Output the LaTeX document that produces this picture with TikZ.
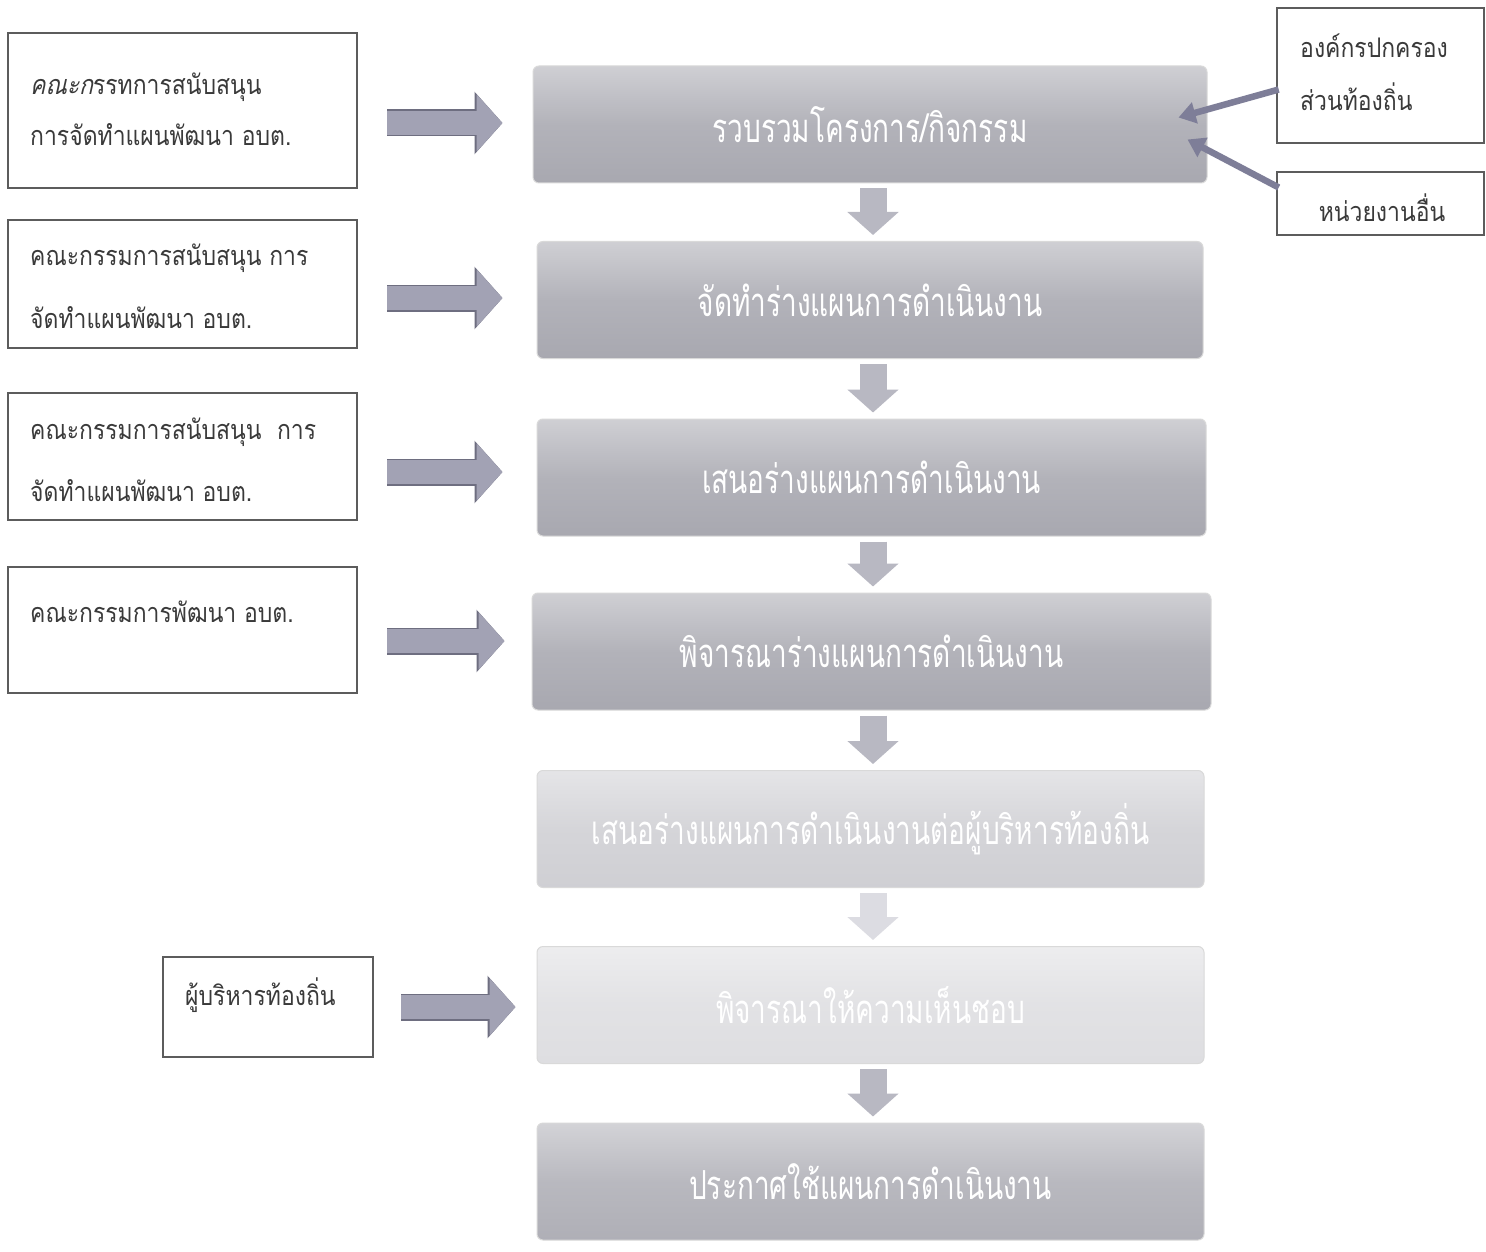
\documentclass[tikz,border=0pt]{standalone}
\usepackage{fontspec}
\newfontfamily\thai[Script=Thai,FakeStretch=0.85]{Loma}
\newfontfamily\thaiit[Script=Thai,FakeStretch=0.85,FakeSlant=0.22]{Loma}
\newfontfamily\thaicond[Script=Thai,FakeStretch=0.7]{Loma}
\usetikzlibrary{arrows.meta,calc}
\definecolor{boxedge}{HTML}{5C5C5C}
\definecolor{txt}{HTML}{3A3A3A}
\definecolor{arr}{HTML}{A2A2B4}
\definecolor{arrdark}{HTML}{6E6E80}
\definecolor{sarr}{HTML}{7E7E98}
\definecolor{arrlight}{HTML}{DCDCE2}
\definecolor{arrmid}{HTML}{B8B8C2}
\definecolor{mmid}{HTML}{A8A8B0}
\tikzset{
  sidebox/.style={draw=boxedge, line width=2.6pt, fill=white, inner sep=0pt},
  sidetext/.style={font=\thai\fontsize{27}{27}\selectfont, text=txt, inner sep=0pt, anchor=west},
  mainbox/.style={rounded corners=6pt, draw=white!85!black, line width=1pt,
    minimum height=117pt, inner sep=0pt,
    top color=#1!55!white, bottom color=#1, middle color=#1!88!white,
    text=white, font=\thaicond\fontsize{40}{40}\selectfont},
  blockarr/.style={line width=24pt, draw=arr, -{Triangle[length=26pt,width=56pt]},
    preaction={draw=arrdark, line width=27pt, -{Triangle[length=28pt,width=61pt]}}},
  downarr/.style={line width=27pt, draw=#1, -{Triangle[length=23pt,width=50pt]},
    shorten <=5pt, shorten >=6pt},
  sidearr/.style={line width=6.5pt, draw=sarr, -{Triangle[length=17pt,width=21pt]}}
}
\begin{document}
\begin{tikzpicture}[x=1pt,y=-1pt]
\useasboundingbox (0,0) rectangle (1486,1252);
\fill[white] (0,0) rectangle (1486,1252);

% main process boxes
\node[mainbox=mmid, minimum width=674pt] (m1) at (870,124.5) {รวบรวมโครงการ/กิจกรรม};
\node[mainbox=mmid, minimum width=666pt] (m2) at (870,300) {จัดทำร่างแผนการดำเนินงาน};
\node[mainbox=mmid, minimum width=669pt] (m3) at (871.5,477.5) {เสนอร่างแผนการดำเนินงาน};
\node[mainbox=mmid, minimum width=679pt] (m4) at (871.5,651.5) {พิจารณาร่างแผนการดำเนินงาน};
\node[mainbox=white!45!mmid, minimum width=667pt] (m5) at (870.5,829) {เสนอร่างแผนการดำเนินงานต่อผู้บริหารท้องถิ่น};
\node[mainbox=white!62!mmid, minimum width=667pt] (m6) at (870.5,1005) {พิจารณาให้ความเห็นชอบ};
\node[mainbox=white!8!mmid, minimum width=667pt] (m7) at (870.5,1181.5) {ประกาศใช้แผนการดำเนินงาน};

% left boxes
\node[sidebox, minimum width=349pt, minimum height=155pt] (l1) at (182.5,110.5) {};
\node[sidetext] (l1t) at (30,87) {{\thaiit คณะก}รรทการสนับสนุน};
\node[sidetext] (l1u) at (30,135) {การจัดทำแผนพัฒนา อบต.};
\node[sidebox, minimum width=349pt, minimum height=128pt] (l2) at (182.5,284) {};
\node[sidetext] (l2t) at (30,258) {คณะกรรมการสนับสนุน การ};
\node[sidetext] (l2u) at (30,318) {จัดทำแผนพัฒนา อบต.};
\node[sidebox, minimum width=349pt, minimum height=127pt] (l3) at (182.5,456.5) {};
\node[sidetext] (l3t) at (30,432) {คณะกรรมการสนับสนุน\ \ การ};
\node[sidetext] (l3u) at (30,491) {จัดทำแผนพัฒนา อบต.};
\node[sidebox, minimum width=349pt, minimum height=126pt] (l4) at (182.5,630) {};
\node[sidetext] (l4t) at (30,612) {คณะกรรมการพัฒนา อบต.};
\node[sidebox, minimum width=210pt, minimum height=100pt] (l5) at (268,1007) {};
\node[sidetext] (l5t) at (185,995) {ผู้บริหารท้องถิ่น};

% right boxes
\node[sidebox, minimum width=207pt, minimum height=135pt] (r1) at (1380.5,75.5) {};
\node[sidetext] (r1t) at (1300,46) {องค์กรปกครอง};
\node[sidetext] (r1u) at (1300,97) {ส่วนท้องถิ่น};
\node[sidebox, minimum width=207pt, minimum height=63pt] (r2) at (1380.5,203.5) {};
\node[sidetext, anchor=center] (r2t) at (1382,208) {หน่วยงานอื่น};

% block arrows from left boxes
\draw[blockarr, shorten <=29pt, shorten >=30pt] (l1.east |- 0,123) -- (m1.west |- 0,123);
\draw[blockarr, shorten <=29pt, shorten >=34pt] (l2.east |- 0,298) -- (m2.west |- 0,298);
\draw[blockarr, shorten <=29pt, shorten >=34pt] (l3.east |- 0,472) -- (m3.west |- 0,472);
\draw[blockarr, shorten <=29pt, shorten >=27pt] (l4.east |- 0,641) -- (m4.west |- 0,641);
\draw[blockarr, shorten <=27pt, shorten >=21pt] (l5.east |- 0,1007) -- (m6.west |- 0,1007);

% down arrows
\draw[downarr=arrmid] (m1.south -| 873,0) -- (m2.north -| 873,0);
\draw[downarr=arrmid] (m2.south -| 873,0) -- (m3.north -| 873,0);
\draw[downarr=arrmid] (m3.south -| 873,0) -- (m4.north -| 873,0);
\draw[downarr=arrmid] (m4.south -| 873,0) -- (m5.north -| 873,0);
\draw[downarr=arrlight] (m5.south -| 873,0) -- (m6.north -| 873,0);
\draw[downarr=arrmid] (m6.south -| 873,0) -- (m7.north -| 873,0);

% side arrows into first box
\draw[sidearr] ($(r1.west)+(3,14)$) -- ($(m1.east)+(-29,-7)$);
\draw[sidearr] ($(r2.west)+(3,-16)$) -- ($(m1.east)+(-20,15)$);
\end{tikzpicture}
\end{document}
